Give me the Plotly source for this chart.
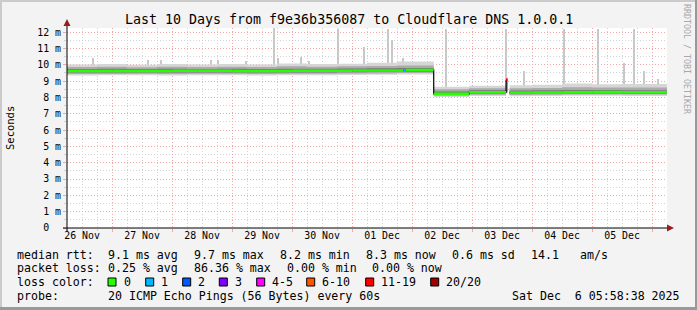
import plotly.graph_objects as go
import pandas as pd
from bisect import bisect_right

# ---------------- data ----------------
t_start = "2025-11-26 05:58:38"
t_end = "2025-12-06 05:58:38"

# median rtt (ms) per interval start, with loss count (of 20 pings)
med_times = ["2025-11-26 05:58:38", "2025-11-27 00:00", "2025-11-28 00:00", "2025-11-29 00:00",
             "2025-11-30 00:00", "2025-12-01 00:00", "2025-12-01 20:30", "2025-12-01 21:20",
             "2025-12-02 08:40", "2025-12-02 22:50", "2025-12-03 13:36", "2025-12-03 14:12",
             "2025-12-03 15:00", "2025-12-04 00:00", "2025-12-04 12:00", "2025-12-05 00:00",
             "2025-12-05 12:00"]
med_vals = [9.62, 9.62, 9.63, 9.61, 9.63, 9.65, 9.66, 9.68, 8.22, 8.31, 9.10, None,
            8.29, 8.30, 8.32, 8.33, 8.31]
med_loss = [0, 0, 0, 0, 0, 0, 1, 0, 0, 0, 15, None, 0, 0, 0, 0, 0]

# smoke (spread of the 20 pings), ms
smoke_times = ["2025-11-26 05:58:38", "2025-11-26 18:00", "2025-11-27 06:00", "2025-11-27 18:00",
               "2025-11-28 06:00", "2025-11-28 18:00", "2025-11-29 06:00", "2025-11-29 18:00",
               "2025-11-30 06:00", "2025-11-30 18:00", "2025-12-01 06:00", "2025-12-01 18:00",
               "2025-12-02 08:40", "2025-12-02 22:50", "2025-12-03 13:36", "2025-12-03 14:12",
               "2025-12-03 15:00", "2025-12-04 00:00", "2025-12-04 12:00", "2025-12-05 00:00",
               "2025-12-05 12:00"]
smoke_out_hi = [10.02, 10.05, 10.0, 10.04, 10.02, 10.05, 10.02, 10.08, 10.04, 10.06, 10.12, 10.2,
                8.65, 8.72, 9.25, None, 8.75, 8.78, 8.85, 8.8, 8.82]
smoke_mid_hi = [9.86, 9.88, 9.85, 9.87, 9.86, 9.88, 9.86, 9.9, 9.88, 9.9, 9.92, 9.96,
                8.5, 8.56, 9.15, None, 8.56, 8.58, 8.62, 8.6, 8.6]
smoke_in_hi = [9.74, 9.75, 9.74, 9.75, 9.74, 9.76, 9.74, 9.76, 9.75, 9.77, 9.78, 9.8,
               8.36, 8.44, 9.1, None, 8.42, 8.43, 8.46, 8.45, 8.44]
smoke_in_lo = [9.52, 9.52, 9.53, 9.52, 9.53, 9.53, 9.52, 9.53, 9.53, 9.54, 9.55, 9.57,
               8.15, 8.22, 8.35, None, 8.21, 8.22, 8.24, 8.24, 8.23]
smoke_mid_lo = [9.44, 9.44, 9.45, 9.44, 9.45, 9.45, 9.44, 9.45, 9.45, 9.46, 9.47, 9.49,
                8.1, 8.16, 8.3, None, 8.15, 8.16, 8.18, 8.18, 8.17]
smoke_out_lo = [9.34, 9.35, 9.36, 9.34, 9.35, 9.36, 9.34, 9.35, 9.36, 9.37, 9.38, 9.4,
                8.03, 8.08, 8.25, None, 8.07, 8.08, 8.1, 8.1, 8.09]

# isolated slow pings (spikes)
spike_times = ["2025-11-26 16:17", "2025-11-27 14:17", "2025-11-27 19:36", "2025-11-28 15:36",
               "2025-11-28 18:17", "2025-11-29 05:36", "2025-11-29 16:55", "2025-11-29 18:17",
               "2025-11-30 03:36", "2025-11-30 06:48", "2025-11-30 18:17", "2025-12-01 04:55",
               "2025-12-01 14:17", "2025-12-01 16:00", "2025-12-01 20:17", "2025-12-02 05:36",
               "2025-12-02 13:36", "2025-12-03 13:40", "2025-12-03 20:41", "2025-12-04 12:55",
               "2025-12-05 02:17", "2025-12-05 12:48", "2025-12-05 16:48", "2025-12-05 20:48",
               "2025-12-06 02:17"]
spike_tops = [10.4, 10.3, 10.3, 10.3, 10.3, 10.2, 12.25, 10.4, 10.5, 10.2, 12.2, 11.1,
              12.2, 11.5, 10.4, 10.1, 12.2, 12.2, 9.6, 12.2, 12.2, 10.1, 12.2, 9.6, 9.1]

day_label_dates = ["2025-11-26 12:00", "2025-11-27 12:00", "2025-11-28 12:00", "2025-11-29 12:00",
                   "2025-11-30 12:00", "2025-12-01 12:00", "2025-12-02 12:00", "2025-12-03 12:00",
                   "2025-12-04 12:00", "2025-12-05 12:00"]
day_labels = ["26 Nov", "27 Nov", "28 Nov", "29 Nov", "30 Nov", "01 Dec", "02 Dec", "03 Dec",
              "04 Dec", "05 Dec"]
y_ticks = [0, 1, 2, 3, 4, 5, 6, 7, 8, 9, 10, 11, 12]
y_labels = ["0\u00a0\u00a0", "1 m", "2 m", "3 m", "4 m", "5 m", "6 m", "7 m", "8 m", "9 m",
            "10 m", "11 m", "12 m"]

loss_labels = ["0", "1", "2", "3", "4-5", "6-10", "11-19", "20/20"]
loss_upper = [0, 1, 2, 3, 5, 10, 19, 20]
loss_colors = ["#26ff00", "#00b8ff", "#0059ff", "#7e00ff", "#ff00ff", "#ff5500", "#ff0000", "#a10000"]

title = "Last 10 Days from f9e36b356087 to Cloudflare DNS 1.0.0.1"
rtt_items = ["9.1 ms avg", "9.7 ms max", "8.2 ms min", "8.3 ms now", "0.6 ms sd", "14.1", "am/s"]
loss_items = ["0.25 % avg", "86.36 % max", "0.00 % min", "0.00 % now"]
probe_text = "20 ICMP Echo Pings (56 Bytes) every 60s"
stamp_text = "Sat Dec  6 05:58:38 2025"

# ---------------- layout helpers ----------------
W, H = 697, 310
PL, PT, PW, PH = 67, 28, 600, 200
MONO = "DejaVu Sans Mono"


def px(x):
    return (x - PL) / PW


def py(y):
    return (PT + PH - y) / PH


def nb(s):
    return s.replace(" ", "\u00a0")


end_ts = pd.Timestamp(t_end)
mt = [pd.Timestamp(t) for t in med_times]
st = [pd.Timestamp(t) for t in smoke_times]


def step_polys(times, lo, hi):
    edges = times + [end_ts]
    xs, ys = [], []
    runs, cur = [], []
    for i in range(len(times)):
        if lo[i] is None:
            if cur:
                runs.append(cur)
            cur = []
        else:
            cur.append(i)
    if cur:
        runs.append(cur)
    for run in runs:
        for i in run:
            xs += [edges[i], edges[i + 1]]
            ys += [hi[i], hi[i]]
        for i in reversed(run):
            xs += [edges[i + 1], edges[i]]
            ys += [lo[i], lo[i]]
        xs += [edges[run[0]], None]
        ys += [hi[run[0]], None]
    return xs, ys


def loss_color(n):
    for up, c in zip(loss_upper, loss_colors):
        if n <= up:
            return c
    return loss_colors[-1]


fig = go.Figure()

# spikes
sp_t = [pd.Timestamp(t) for t in spike_times]
bases = []
for t in sp_t:
    i = max(0, bisect_right(mt, t) - 1)
    v = med_vals[i]
    if v is None:
        v = med_vals[i - 1]
    bases.append(v)
fig.add_trace(go.Bar(x=sp_t, y=[top - b for top, b in zip(spike_tops, bases)], base=bases,
                     width=1.1e6, marker=dict(color="#c8c8c8", line=dict(width=0)),
                     hoverinfo="skip", showlegend=False))

# smoke bands
for lo, hi, col in [(smoke_out_lo, smoke_out_hi, "#d6d6d6"),
                    (smoke_mid_lo, smoke_mid_hi, "#ababab"),
                    (smoke_in_lo, smoke_in_hi, "#7a7a7a")]:
    xs, ys = step_polys(st, lo, hi)
    fig.add_trace(go.Scatter(x=xs, y=ys, fill="toself", fillcolor=col, mode="none",
                             hoverinfo="skip", showlegend=False))

# median step (black transitions)
fig.add_trace(go.Scatter(x=mt + [end_ts], y=med_vals + [med_vals[-1]], mode="lines",
                         line=dict(color="black", width=1.2, shape="hv"),
                         hoverinfo="skip", showlegend=False))

# median coloured by loss
edges = mt + [end_ts]
segs = {}
for i, (v, n) in enumerate(zip(med_vals, med_loss)):
    if v is None:
        continue
    c = loss_color(n)
    sx, sy = segs.setdefault(c, ([], []))
    sx += [edges[i], edges[i + 1], None]
    sy += [v, v, None]
for c, (sx, sy) in segs.items():
    fig.add_trace(go.Scatter(x=sx, y=sy, mode="lines", line=dict(color=c, width=2.5),
                             hoverinfo="skip", showlegend=False))

# dummy trace for label axis
fig.add_trace(go.Scatter(x=[pd.Timestamp(t_start)], y=[None], xaxis="x2", mode="lines",
                         hoverinfo="skip", showlegend=False))

MAJ = "#f0a8a8"
MIN = "#d2d2d2"
DASH = "1px,2px"

fig.update_layout(
    width=W, height=H,
    margin=dict(l=PL, r=W - PL - PW, t=PT, b=H - PT - PH, pad=0),
    paper_bgcolor="#f3f3f3", plot_bgcolor="white",
    barmode="overlay", bargap=0,
    font=dict(family=MONO, size=10, color="black"),
    xaxis=dict(type="date", range=[t_start, t_end], tick0="2025-11-27", dtick=86400000,
               showgrid=True, gridcolor=MAJ, griddash=DASH, gridwidth=1,
               showticklabels=False, ticks="outside", ticklen=3, tickcolor=MAJ,
               minor=dict(dtick=21600000, tick0="2025-11-26", showgrid=True, gridcolor=MIN,
                          griddash=DASH, ticks="outside", ticklen=2, tickcolor=MIN),
               zeroline=False, showline=False, fixedrange=True),
    xaxis2=dict(type="date", range=[t_start, t_end], overlaying="x", anchor="y", side="bottom",
                tickmode="array", tickvals=day_label_dates, ticktext=day_labels,
                showgrid=False, ticks="", zeroline=False, showline=False,
                tickfont=dict(family=MONO, size=9.9, color="black")),
    yaxis=dict(range=[0, 12.25], tickmode="array", tickvals=y_ticks, ticktext=y_labels,
               showgrid=True, gridcolor=MAJ, griddash=DASH,
               ticks="outside", ticklen=3, tickcolor=MAJ,
               minor=dict(dtick=0.5, tick0=0, showgrid=True, gridcolor=MIN, griddash=DASH,
                          ticks="outside", ticklen=2, tickcolor=MIN),
               zeroline=False, showline=False,
               tickfont=dict(family=MONO, size=9.9, color="black")),
)

shapes = []
# axes
shapes.append(dict(type="line", xref="paper", yref="paper", x0=px(PL), x1=px(PL), y0=py(231),
                   y1=py(24), line=dict(color="black", width=1)))
shapes.append(dict(type="line", xref="paper", yref="paper", x0=px(63), x1=px(670), y0=py(228),
                   y1=py(228), line=dict(color="black", width=1)))
AR = "#9b1c1c"
shapes.append(dict(type="path", xref="paper", yref="paper",
                   path=f"M {px(67)},{py(19)} L {px(63.5)},{py(26)} L {px(70.5)},{py(26)} Z",
                   fillcolor=AR, line=dict(width=0)))
shapes.append(dict(type="path", xref="paper", yref="paper",
                   path=f"M {px(674)},{py(228)} L {px(667)},{py(224.5)} L {px(667)},{py(231.5)} Z",
                   fillcolor=AR, line=dict(width=0)))
# 3D border
shapes.append(dict(type="rect", xref="paper", yref="paper", x0=px(0), x1=px(W), y0=py(0), y1=py(2),
                   fillcolor="#cbcbcb", line=dict(width=0)))
shapes.append(dict(type="rect", xref="paper", yref="paper", x0=px(0), x1=px(2), y0=py(0), y1=py(H),
                   fillcolor="#cbcbcb", line=dict(width=0)))
shapes.append(dict(type="rect", xref="paper", yref="paper", x0=px(W - 2), x1=px(W), y0=py(0), y1=py(H),
                   fillcolor="#999999", line=dict(width=0)))
shapes.append(dict(type="rect", xref="paper", yref="paper", x0=px(0), x1=px(W), y0=py(H - 3), y1=py(H),
                   fillcolor="#999999", line=dict(width=0)))

ann = []


def text(x, y, s, size=11.6, anchor="left", color="black", angle=0):
    ann.append(dict(xref="paper", yref="paper", x=px(x), y=py(y), text=nb(s), showarrow=False,
                    xanchor=anchor, yanchor="middle", textangle=angle,
                    font=dict(family=MONO, size=size, color=color), borderpad=0))


text(348.5, 19, title, size=13.3, anchor="center")
text(10, 128, "Seconds", size=10.5, anchor="center", angle=-90)
text(687, 59, "RRDTOOL / TOBI OETIKER", size=8.3, anchor="center", color="#a8a8a8", angle=90)

L1, L2, L3, L4 = 254.5, 268.3, 282, 296.3
text(15.5, L1, "median rtt:")
for s, x in zip(rtt_items, [107, 193, 279, 365, 451, 530, 579]):
    text(x - 0.5, L1, s)
text(15.5, L2, "packet loss:")
for s, x in zip(loss_items, [107, 193, 286, 372]):
    text(x - 0.5, L2, s)
text(15.5, L3, "loss color:")
box_x = [108, 145.7, 182.7, 219.3, 256.7, 306.7, 365.7, 430.7]
for lab, col, bx in zip(loss_labels, loss_colors, box_x):
    shapes.append(dict(type="rect", xref="paper", yref="paper", x0=px(bx), x1=px(bx + 8),
                       y0=py(286), y1=py(278), fillcolor=col, line=dict(color="black", width=1)))
    text(bx + 14.5, L3, lab)
text(15.5, L4, "probe:")
text(107, L4, probe_text)
text(680.5, L4, stamp_text, anchor="right")

fig.update_layout(shapes=shapes, annotations=ann)
fig.write_html("out.html")
